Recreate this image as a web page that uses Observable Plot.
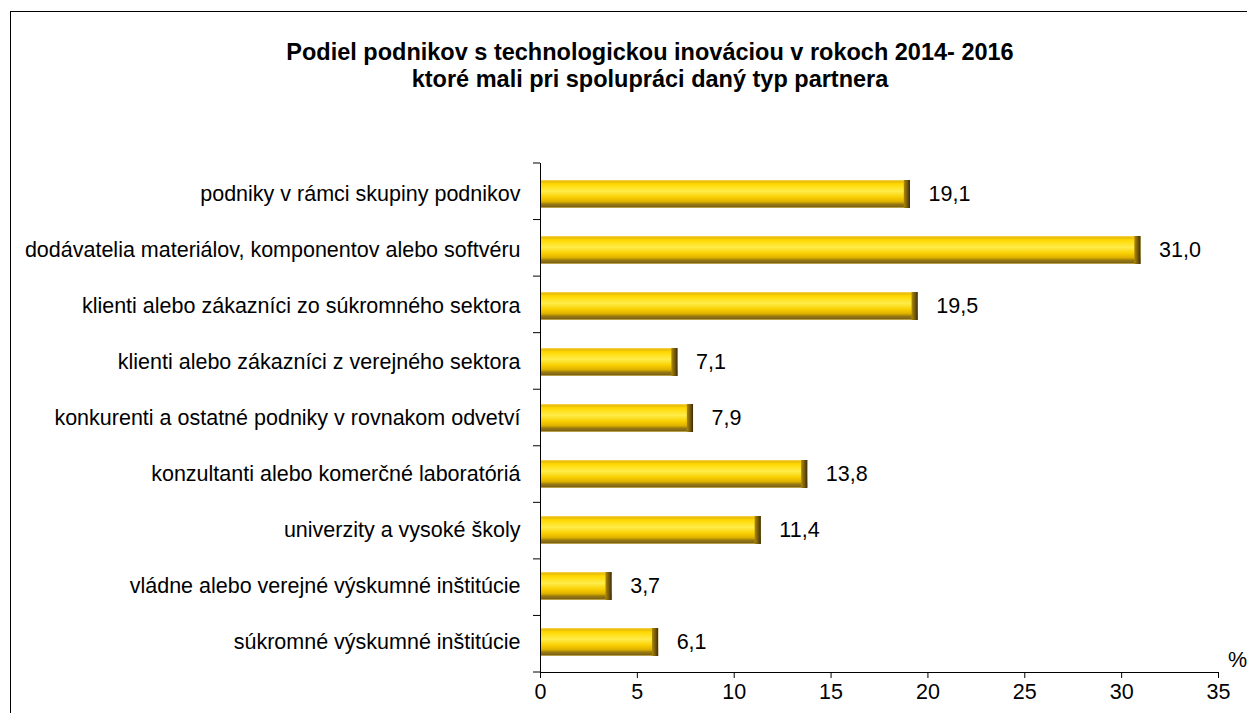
<!DOCTYPE html>
<html>
<head>
<meta charset="utf-8">
<script src="https://cdn.jsdelivr.net/npm/d3@7"></script>
<script src="https://cdn.jsdelivr.net/npm/@observablehq/plot@0.6"></script>
<style>
  html, body { margin: 0; padding: 0; background: #fff; width: 1247px; height: 713px; overflow: hidden; }
  body { font-family: "Liberation Sans", Arial, sans-serif; position: relative; }
  #frame { position: absolute; left: 10px; top: 11px; width: 1400px; height: 900px; border: 1px solid #000; box-sizing: border-box; }
  #title { position: absolute; left: 0; top: 39px; width: 1300px; text-align: center; font-weight: bold; font-size: 23.5px; line-height: 27px; color: #000; }
  #chart { position: absolute; left: 0; top: 130px; }
</style>
</head>
<body>
<div id="frame"></div>
<div id="title">Podiel podnikov s technologickou inováciou v rokoch 2014- 2016<br>ktoré mali pri spolupráci daný typ partnera</div>
<div id="chart"></div>
<script>
const categories = [
  "podniky v rámci skupiny podnikov",
  "dodávatelia materiálov, komponentov alebo softvéru",
  "klienti alebo zákazníci zo súkromného sektora",
  "klienti alebo zákazníci z verejného sektora",
  "konkurenti a ostatné podniky v rovnakom odvetví",
  "konzultanti alebo komerčné laboratóriá",
  "univerzity a vysoké školy",
  "vládne alebo verejné výskumné inštitúcie",
  "súkromné výskumné inštitúcie"
];
const values = [19.1, 31.0, 19.5, 7.1, 7.9, 13.8, 11.4, 3.7, 6.1];
const xTicks = [0, 5, 10, 15, 20, 25, 30, 35];
const unitLabel = "%";

const data = categories.map((c, i) => ({category: c, value: values[i]}));
const fmt = v => v.toFixed(1).replace(".", ",");
const FS = 21.5;

const chart = Plot.plot({
  width: 1247,
  height: 583,
  marginLeft: 540,
  marginRight: 29,
  marginTop: 33,
  marginBottom: 41,
  style: {fontFamily: "'Liberation Sans', Arial, sans-serif", fontSize: FS + "px", color: "#000", background: "transparent"},
  x: {domain: [0, 35], ticks: xTicks, label: null},
  y: {domain: categories, paddingInner: 0.5, paddingOuter: 0.25, label: null},
  marks: [
    Plot.barX(data, {y: "category", x: "value", fill: "url(#goldGrad)"}),
    Plot.barX(data, {y: "category", x1: d => d.value - 0.32, x2: "value", fill: "url(#capGrad)"}),
    Plot.ruleX([0], {stroke: "#000", strokeWidth: 1}),
    Plot.frame({anchor: "bottom", stroke: "#000"}),
    Plot.axisX({ticks: xTicks, tickSize: 6, tickPadding: 5, fontSize: FS, tickFormat: d => String(d)}),
    Plot.axisY({tickSize: 0, tickPadding: 20, fontSize: FS}),
    Plot.text(data, {y: "category", x: "value", text: d => fmt(d.value), textAnchor: "start", dx: 18, fontSize: FS, fill: "#000"}),
    Plot.text([unitLabel], {frameAnchor: "bottom-right", textAnchor: "middle", dx: 19, dy: -6, fontSize: FS, fill: "#000"})
  ]
});

// gradient defs for beveled gold bars
const svg = d3.select(chart);
const defs = svg.insert("defs", ":first-child");
const g = defs.append("linearGradient").attr("id", "goldGrad").attr("x1", 0).attr("y1", 0).attr("x2", 0).attr("y2", 1);
[["0%", "#f6d860"], ["6%", "#eabc00"], ["14%", "#ffd800"], ["40%", "#ffec4a"], ["62%", "#f9cf00"], ["78%", "#ddb000"], ["86%", "#9a7a10"], ["96%", "#7a6218"], ["100%", "#e8d070"]]
  .forEach(([o, c]) => g.append("stop").attr("offset", o).attr("stop-color", c));
const cg = defs.append("linearGradient").attr("id", "capGrad").attr("x1", 0).attr("y1", 0).attr("x2", 1).attr("y2", 0);
[["0%", "#b08a00"], ["60%", "#6e5410"], ["100%", "#3a2c08"]]
  .forEach(([o, c]) => cg.append("stop").attr("offset", o).attr("stop-color", c));

// boundary ticks on the y axis, between categories, from Plot's own band scale
const ys = chart.scale("y");
const xs = chart.scale("x");
const x0 = xs.apply(0);
const y0 = ys.range[0], y1 = ys.range[1];
const step = (y1 - y0) / categories.length;
const bounds = d3.range(categories.length + 1).map(i => y0 + i * step);
svg.append("g").selectAll("line").data(bounds).join("line")
  .attr("x1", x0 - 7).attr("x2", x0).attr("y1", d => d).attr("y2", d => d)
  .attr("stroke", "#000");

document.getElementById("chart").appendChild(chart);
</script>
</body>
</html>
